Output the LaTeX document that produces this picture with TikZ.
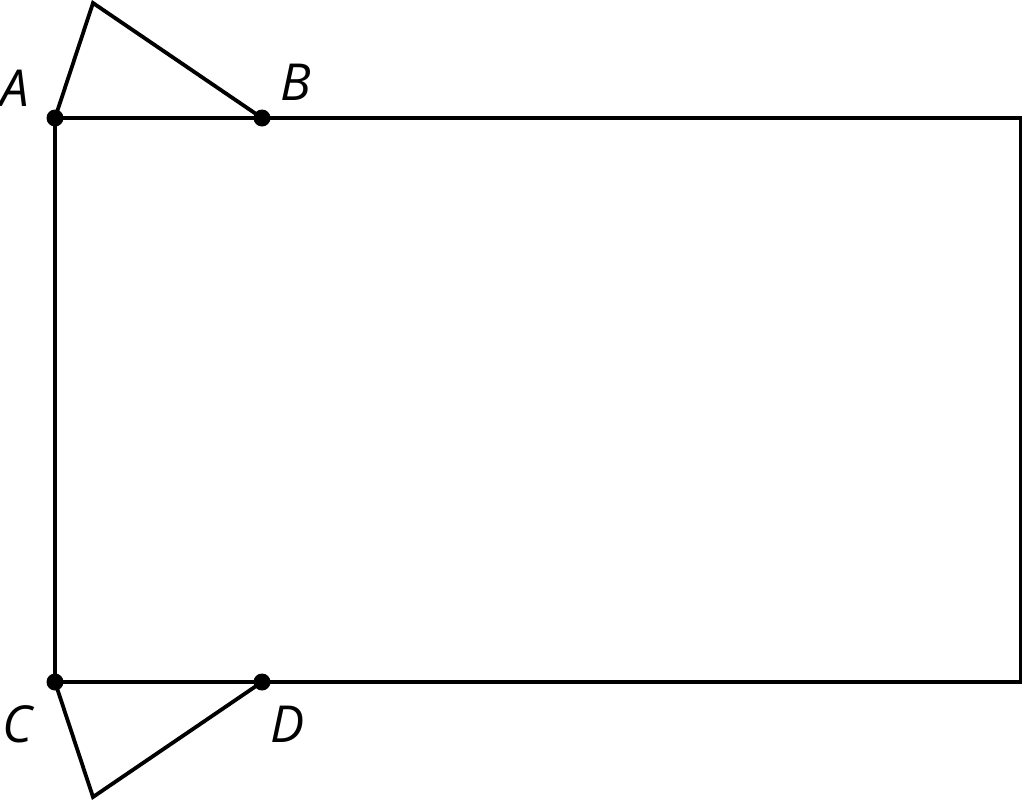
\documentclass[tikz,border=0pt]{standalone}
\usepackage{fontspec}
\setmainfont{Open Sans}
\begin{document}
\begin{tikzpicture}[x=1pt,y=-1pt,
  edge/.style={line width=3.8pt, line join=miter},
  pt/.style={circle, fill=black, inner sep=0pt, minimum size=17pt},
  lbl/.style={inner sep=0pt, font=\fontsize{51}{57}\selectfont\itshape}]
\useasboundingbox (0,0) rectangle (1024,801);
\coordinate (A) at (55,118);
\coordinate (B) at (262,118);
\coordinate (C) at (55,682);
\coordinate (D) at (262,682);
\coordinate (R1) at (1020.5,118);
\coordinate (R2) at (1020.5,682);
\coordinate (T) at (93,3);
\coordinate (S) at (93,797);
\draw[edge] (C) -- (A) -- (R1) -- (R2) -- (C) -- cycle;
\draw[edge] (A) -- (T) -- (B);
\draw[edge] (C) -- (S) -- (D);
\node[pt] at (A) {};
\node[pt] at (B) {};
\node[pt] at (C) {};
\node[pt] at (D) {};
\node[lbl] (la) at (15,88) {A};
\node[lbl] (lb) at (296,82) {B};
\node[lbl] (lc) at (17,724) {C};
\node[lbl] (ld) at (288,724) {D};
\end{tikzpicture}
\end{document}
